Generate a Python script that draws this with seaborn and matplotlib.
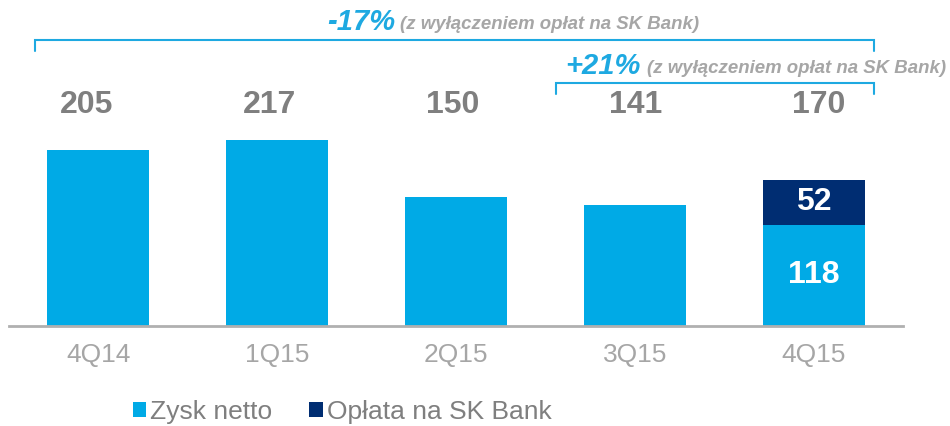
import numpy as np
import pandas as pd
import matplotlib
matplotlib.use("Agg")
import matplotlib.pyplot as plt
from matplotlib.patches import Patch
import seaborn as sns

# data
quarters = ["4Q14", "1Q15", "2Q15", "3Q15", "4Q15"]
net_profit = [205, 217, 150, 141, 118]
sk_fee = [0, 0, 0, 0, 52]
series_names = ["Zysk netto", "Opłata na SK Bank"]
change_labels = ["-17%", "+21%"]
change_note = "(z wyłączeniem opłat na SK Bank)"

LIGHT = "#00AAE6"
NAVY = "#002D72"
GRAY = "#7F7F7F"
TICK_GRAY = "#A6A6A6"
BRACKET = "#1EA9E1"


def main():
    sns.set_theme(style="white")
    plt.rcParams["font.family"] = ["Liberation Sans", "DejaVu Sans"]

    df = pd.DataFrame({"quarter": quarters, "net": net_profit, "fee": sk_fee})
    df["total"] = df["net"] + df["fee"]

    fig = plt.figure(figsize=(9.5, 4.26), dpi=100)
    ax = fig.add_axes([9 / 950, 100 / 426, 894 / 950, 326 / 426])

    # stacked: draw totals in navy, then net profit over it
    sns.barplot(data=df, x="quarter", y="total", color=NAVY, width=0.57,
                saturation=1, linewidth=0, ax=ax)
    sns.barplot(data=df, x="quarter", y="net", color=LIGHT, width=0.57,
                saturation=1, linewidth=0, ax=ax)

    ax.set_xlim(-0.5, 4.5)
    ax.set_ylim(0, 380)
    ax.set_xlabel("")
    ax.set_ylabel("")
    ax.set_yticks([])
    for side in ["left", "right", "top"]:
        ax.spines[side].set_visible(False)
    ax.spines["bottom"].set_color("#B0B0B0")
    ax.spines["bottom"].set_linewidth(2)
    ax.tick_params(axis="x", length=0, pad=12, labelsize=19, labelcolor=TICK_GRAY)

    # totals above bars (slightly wider spacing than the bars, as in the slide)
    for i, row in df.iterrows():
        ax.text(-0.067 + i * 1.024, 258, str(row["total"]), ha="center",
                va="center", fontsize=23, fontweight="bold", color=GRAY)

    # inner labels for stacked bar
    for i, row in df.iterrows():
        if row["fee"] > 0:
            ax.text(i, row["net"] + row["fee"] / 2, str(row["fee"]), ha="center",
                    va="center", fontsize=23, fontweight="bold", color="white")
            ax.text(i, row["net"] / 2, str(row["net"]), ha="center",
                    va="center", fontsize=23, fontweight="bold", color="white")

    # brackets
    def px2y(p):
        return (326 - p) / 0.858

    def bracket(x0, x1, ypx, label, lab_x, note_x, text_ypx):
        y = px2y(ypx)
        ytick = px2y(ypx + 11)
        ax.plot([x0, x0, x1, x1], [ytick, y, y, ytick], color=BRACKET, lw=1.5,
                clip_on=False, solid_joinstyle="miter")
        ax.text(lab_x, px2y(text_ypx), label, ha="left", va="center",
                fontsize=21, fontweight="bold", style="italic", color=BRACKET)
        ax.text(note_x, px2y(text_ypx + 2), change_note, ha="left", va="center",
                fontsize=13.4, fontweight="bold", style="italic", color=TICK_GRAY)

    bracket(-0.353, 4.336, 40, change_labels[0], 1.28, 1.685, 22)
    bracket(2.562, 4.336, 83, change_labels[1], 2.61, 3.07, 66)

    handles = [Patch(facecolor=LIGHT, edgecolor="none"),
               Patch(facecolor=NAVY, edgecolor="none")]
    fig.legend(handles, series_names, loc="center left",
               bbox_to_anchor=(122 / 950, 1 - 412 / 426), ncol=2, frameon=False,
               fontsize=19, labelcolor=GRAY, handlelength=0.52, handleheight=0.52,
               handletextpad=0.15, columnspacing=1.4, borderaxespad=0)

    fig.savefig("out.png", dpi=100)


if __name__ == '__main__':
    main()
